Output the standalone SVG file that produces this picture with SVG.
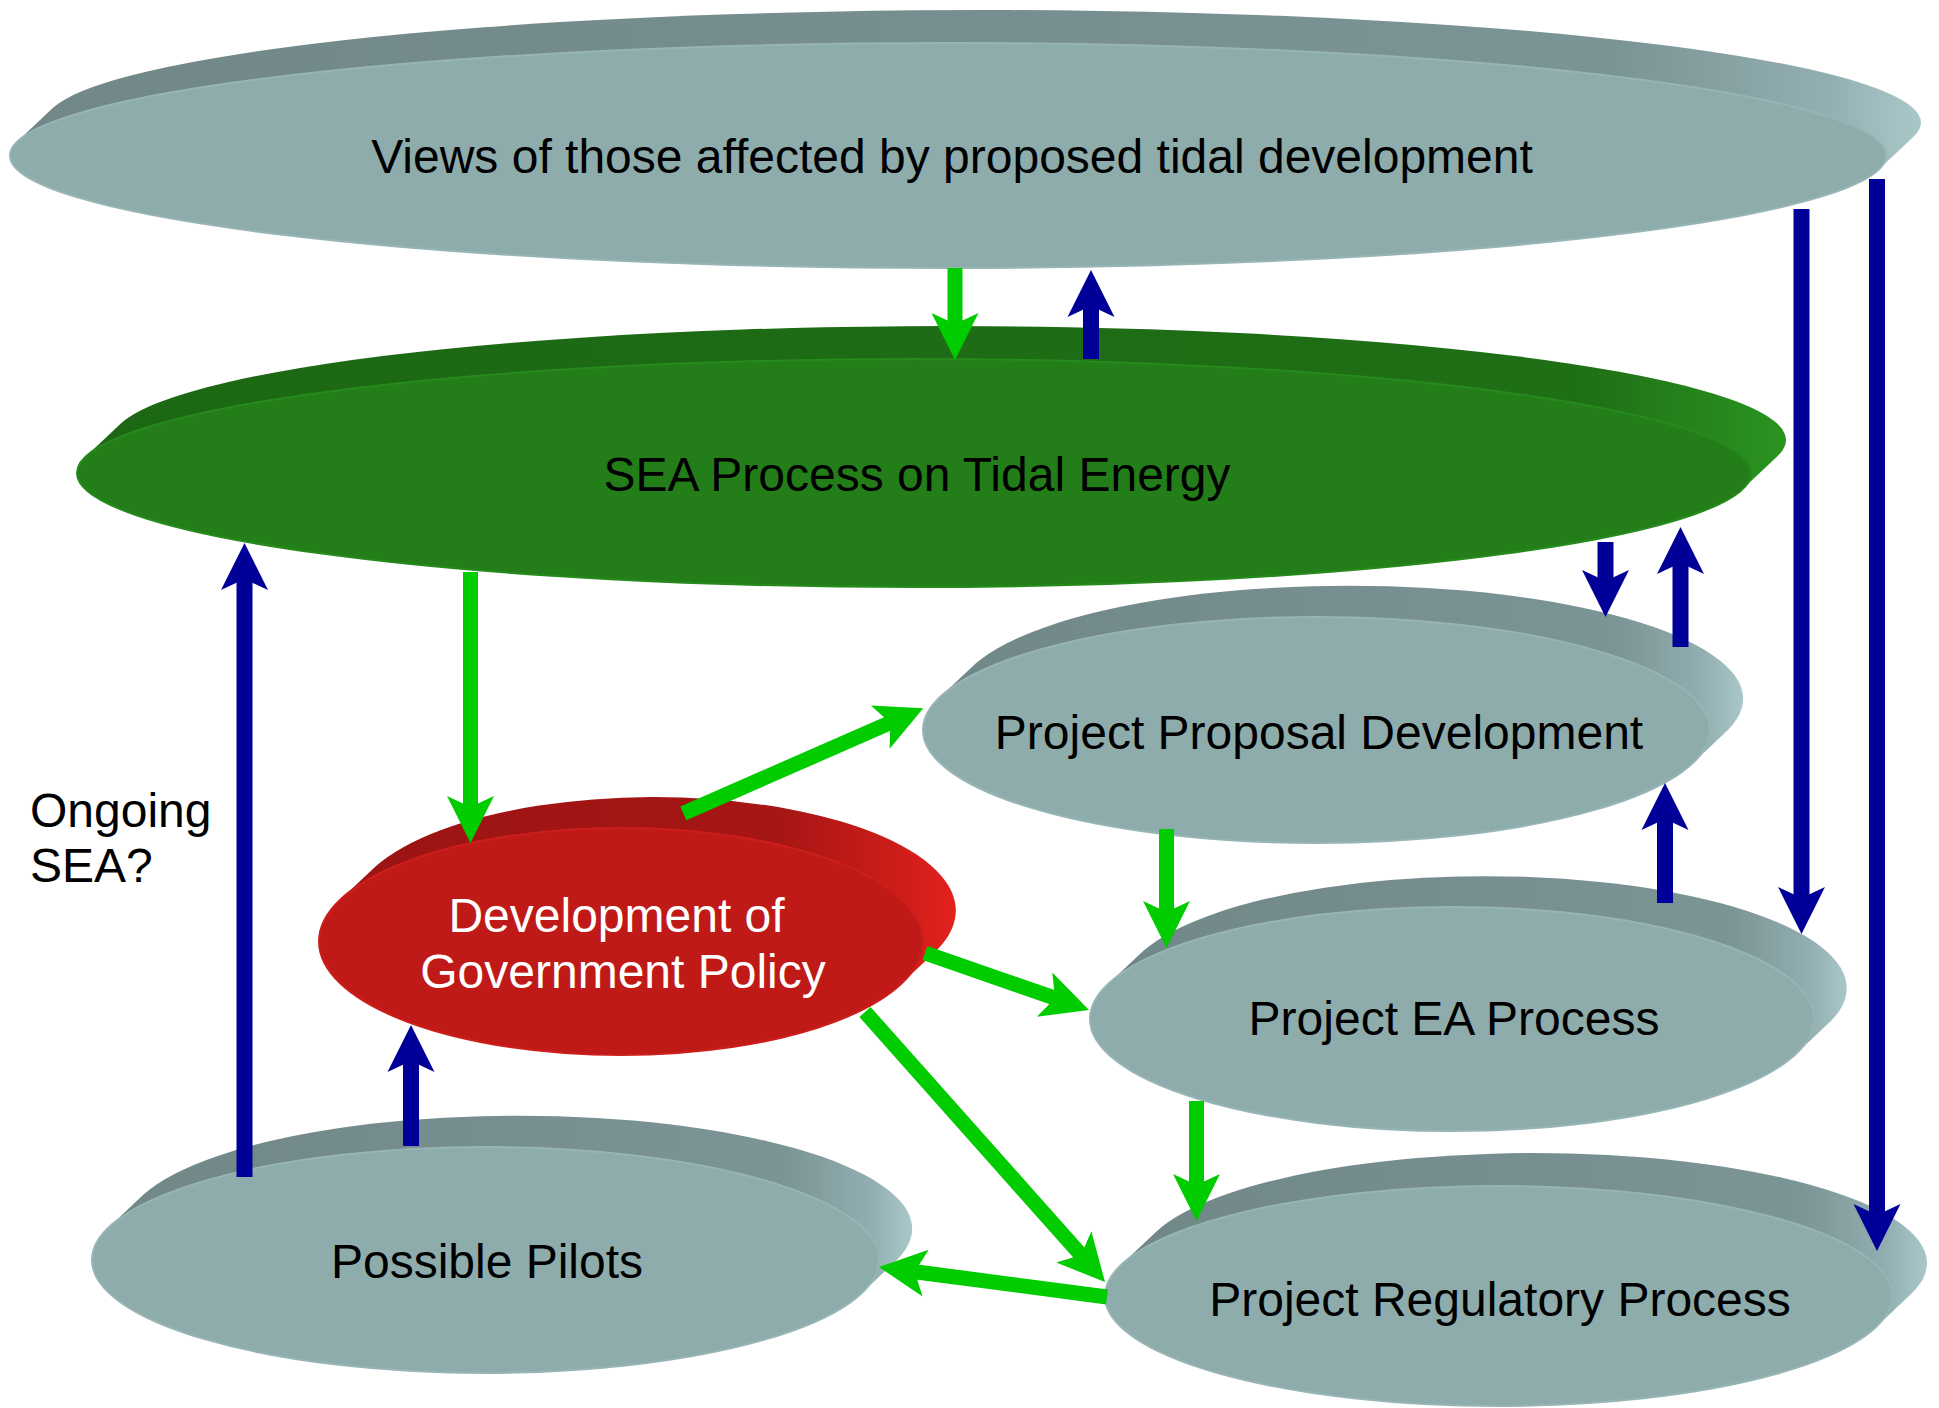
<svg xmlns="http://www.w3.org/2000/svg" width="1939" height="1408" viewBox="0 0 1939 1408">
<style>
.lbl{font-family:"Liberation Sans",Arial,sans-serif;font-size:48px;fill:#000;text-anchor:middle}
.wl{fill:#fff}
.gface{fill:#8eacac;stroke:#98b5b6;stroke-width:2}
.gside{fill:url(#gs)}
.green{stroke:#00cc00;stroke-width:15;fill:none;marker-end:url(#ag)}
.blue{stroke:#000099;stroke-width:16;fill:none;marker-end:url(#ab)}
</style>
<defs>
<linearGradient id="gs" x1="0" y1="0" x2="1" y2="0">
<stop offset="0" stop-color="#718788"/>
<stop offset="0.84" stop-color="#7b9495"/>
<stop offset="0.95" stop-color="#92aeb0"/>
<stop offset="1" stop-color="#a9c7c9"/>
</linearGradient>
<linearGradient id="grs" x1="0" y1="0" x2="1" y2="0">
<stop offset="0" stop-color="#1c6713"/>
<stop offset="0.88" stop-color="#1f6f16"/>
<stop offset="1" stop-color="#2a9420"/>
</linearGradient>
<linearGradient id="rs" x1="0" y1="0" x2="1" y2="0">
<stop offset="0" stop-color="#9a1413"/>
<stop offset="0.72" stop-color="#a61614"/>
<stop offset="1" stop-color="#e2211d"/>
</linearGradient>
<marker id="ag" markerUnits="userSpaceOnUse" orient="auto" overflow="visible" refX="11" refY="0" markerWidth="48" markerHeight="48">
<path d="M0,-23.5 L47,0 L0,23.5 L11,0 Z" fill="#00cc00"/>
</marker>
<marker id="ab" markerUnits="userSpaceOnUse" orient="auto" overflow="visible" refX="11" refY="0" markerWidth="48" markerHeight="48">
<path d="M0,-23.5 L47,0 L0,23.5 L11,0 Z" fill="#000099"/>
</marker>
</defs>
<rect width="1939" height="1408" fill="#ffffff"/>

<g id="node-views">
<path class="gside" d="M17.5,141.3 L52.5,108.3 A938,112.5 0 0 1 1913.5,136.7 L1878.5,169.7 Z"/>
<ellipse class="gface" cx="948" cy="155.5" rx="938" ry="112.5"/>
<text class="lbl" x="952" y="173">Views of those affected by proposed tidal development</text>
</g>

<g id="node-sea">
<path fill="url(#grs)" d="M85.6,456.7 L120.6,423.7 A837,114 0 0 1 1777.4,456.3 L1742.4,489.3 Z"/>
<ellipse cx="914" cy="473" rx="837" ry="114" fill="#237e1a" stroke="#268a1d" stroke-width="2"/>
<text class="lbl" x="917" y="491">SEA Process on Tidal Energy</text>
</g>

<g id="node-proposal">
<path class="gside" d="M940.1,697.1 L975.1,664.1 A393.5,113 0 0 1 1727.9,729.9 L1692.9,762.9 Z"/>
<ellipse class="gface" cx="1316.5" cy="730" rx="393.5" ry="113"/>
<text class="lbl" x="1319" y="749">Project Proposal Development</text>
</g>

<g id="node-ea">
<path class="gside" d="M1108.1,984.1 L1143.1,951.1 A362,112 0 0 1 1830.9,1020.9 L1795.9,1053.9 Z"/>
<ellipse class="gface" cx="1452" cy="1019" rx="362" ry="112"/>
<text class="lbl" x="1454" y="1035">Project EA Process</text>
</g>

<g id="node-regulatory">
<path class="gside" d="M1121.2,1264.7 L1156.2,1231.7 A393.5,110 0 0 1 1910.8,1294.3 L1875.8,1327.3 Z"/>
<ellipse class="gface" cx="1498.5" cy="1296" rx="393.5" ry="110"/>
<text class="lbl" x="1500" y="1316">Project Regulatory Process</text>
</g>

<g id="node-pilots">
<path class="gside" d="M109.1,1227.1 L144.1,1194.1 A393.5,113 0 0 1 896.9,1259.9 L861.9,1292.9 Z"/>
<ellipse class="gface" cx="485.5" cy="1260" rx="393.5" ry="113"/>
<text class="lbl" x="487" y="1278">Possible Pilots</text>
</g>

<g id="node-policy">
<path fill="url(#rs)" d="M340.5,899.5 L375.5,866.5 A302,113.5 0 0 1 936.5,950.5 L901.5,983.5 Z"/>
<ellipse cx="621" cy="941.5" rx="302" ry="113.5" fill="#c01a18" stroke="#cc1e1b" stroke-width="2"/>
<text class="lbl wl" x="616.5" y="932">Development of</text>
<text class="lbl wl" x="623" y="988">Government Policy</text>
</g>

<g id="label-ongoing">
<text class="lbl" style="text-anchor:start" x="30" y="827">Ongoing</text>
<text class="lbl" style="text-anchor:start" x="30" y="882">SEA?</text>
</g>

<g id="connectors">
<line class="green" x1="955" y1="268" x2="955" y2="324"/>
<line class="green" x1="470.5" y1="572" x2="470.5" y2="807"/>
<line class="green" x1="683.3" y1="813.3" x2="890.3" y2="722.7"/>
<line class="green" x1="925" y1="953" x2="1055" y2="998.2"/>
<line class="green" x1="865" y1="1012" x2="1081.1" y2="1255.1"/>
<line class="green" x1="1166.5" y1="829" x2="1166.5" y2="912"/>
<line class="green" x1="1196.5" y1="1101" x2="1196.5" y2="1185"/>
<line class="green" x1="1107" y1="1297" x2="914.7" y2="1271.7"/>
<line class="blue" x1="1091" y1="359" x2="1091" y2="306"/>
<line class="blue" x1="1801.5" y1="209" x2="1801.5" y2="898"/>
<line class="blue" x1="1877" y1="179" x2="1877" y2="1215"/>
<line class="blue" x1="1605.5" y1="542" x2="1605.5" y2="581"/>
<line class="blue" x1="1680.5" y1="647" x2="1680.5" y2="563"/>
<line class="blue" x1="1665" y1="903" x2="1665" y2="819"/>
<line class="blue" x1="244.5" y1="1177" x2="244.5" y2="579"/>
<line class="blue" x1="411" y1="1146" x2="411" y2="1061"/>
</g>
</svg>
